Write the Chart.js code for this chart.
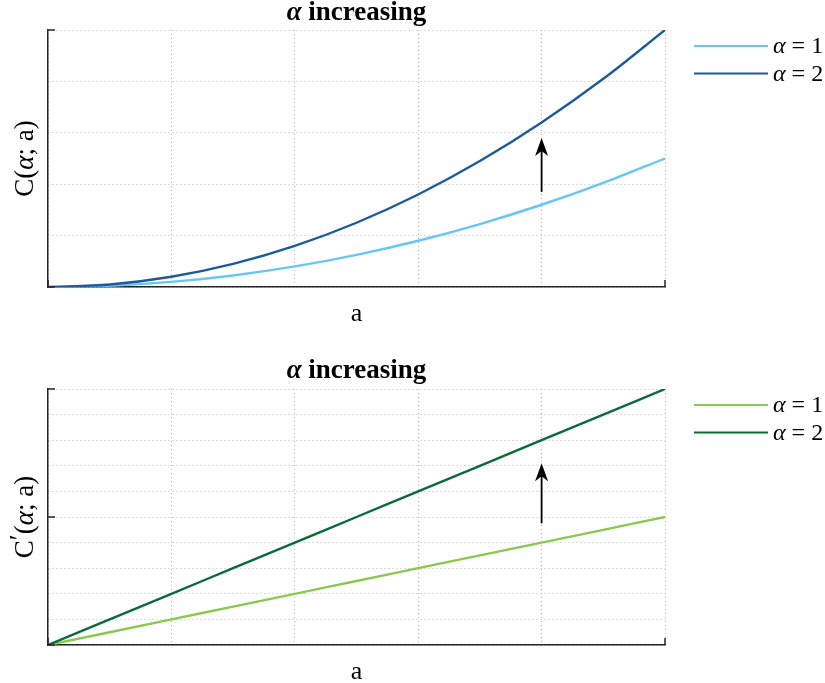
<!DOCTYPE html>
<html lang="en">
<head>
    <meta charset="UTF-8">
    <title>alpha increasing</title>
    <script src="https://cdn.jsdelivr.net/npm/chart.js"></script>
    <style>
        body { margin: 0; background: #fff; }
        #wrap { position: relative; width: 825px; height: 683px; }
        canvas { position: absolute; left: 0; }
        #costChart { top: 0; }
        #margChart { top: 342px; }
    </style>
</head>
<body>
<div id="wrap">
    <canvas id="costChart" width="825" height="342"></canvas>
    <canvas id="margChart" width="825" height="341"></canvas>
</div>
<script>
    // values
    const aGrid = [0, 0.1, 0.2, 0.3, 0.4, 0.5, 0.6, 0.7, 0.8, 0.9, 1];
    const costAlpha1 = [0, 0.005, 0.02, 0.045, 0.08, 0.125, 0.18, 0.245, 0.32, 0.405, 0.5];
    const costAlpha2 = [0, 0.01, 0.04, 0.09, 0.16, 0.25, 0.36, 0.49, 0.64, 0.81, 1];
    const margAlpha1 = [0, 0.1, 0.2, 0.3, 0.4, 0.5, 0.6, 0.7, 0.8, 0.9, 1];
    const margAlpha2 = [0, 0.2, 0.4, 0.6, 0.8, 1, 1.2, 1.4, 1.6, 1.8, 2];
    const seriesLabels = ["α = 1", "α = 2"];
    const costMajorY = [0, 1];
    const margMajorY = [0, 1, 2];
    const majorX = [0, 1];
    // arrow: [a, from, to]
    const costArrow = [0.8, 0.37, 0.58];
    const margArrow = [0.8, 0.95, 1.42];

    const serif = '"Liberation Serif", "Times New Roman", serif';
    const axisColor = "#262626";

    function runsWidth(ctx, runs) {
        let w = 0;
        for (const r of runs) { ctx.font = r.font; w += ctx.measureText(r.text).width; }
        return w;
    }
    function drawRuns(ctx, runs, x, y, centered) {
        let cx = centered ? x - runsWidth(ctx, runs) / 2 : x;
        for (const r of runs) {
            ctx.font = r.font;
            ctx.fillText(r.text, cx, y + (r.dy || 0));
            cx += ctx.measureText(r.text).width;
        }
    }
    function alphaRuns(label, size, bold) {
        const w = bold ? "bold " : "";
        return [
            { text: label[0], font: "italic " + w + size + "px " + serif },
            { text: label.slice(1), font: w + size + "px " + serif }
        ];
    }

    // titles, axis labels, legend, inward ticks and arrow
    const decorPlugin = {
        id: "decor",
        afterDraw(chart, args, opts) {
            const ctx = chart.ctx;
            const area = chart.chartArea;
            const xs = chart.scales.x, ys = chart.scales.y;
            const midX = (area.left + area.right) / 2;
            const midY = (area.top + area.bottom) / 2;
            ctx.save();
            ctx.fillStyle = "#000";
            ctx.textBaseline = "alphabetic";

            // title
            drawRuns(ctx, alphaRuns("α increasing", 27, true), midX, area.top - opts.titleGap, true);

            // x label
            ctx.textBaseline = "middle";
            drawRuns(ctx, [{ text: "a", font: "26px " + serif }], midX, area.bottom + 27, true);

            // y label
            ctx.save();
            ctx.translate(26, midY);
            ctx.rotate(-Math.PI / 2);
            drawRuns(ctx, opts.yRuns, 0, 0, true);
            ctx.restore();

            // inward major ticks
            ctx.strokeStyle = axisColor;
            ctx.lineWidth = 1.5;
            ctx.beginPath();
            for (const v of opts.majorY) {
                const py = ys.getPixelForValue(v);
                ctx.moveTo(area.left, py);
                ctx.lineTo(area.left + 7, py);
            }
            for (const v of majorX) {
                const px = xs.getPixelForValue(v);
                ctx.moveTo(px, area.bottom);
                ctx.lineTo(px, area.bottom - 7);
            }
            ctx.stroke();

            // arrow
            const ax = xs.getPixelForValue(opts.arrow[0]);
            const y0 = ys.getPixelForValue(opts.arrow[1]);
            const y1 = ys.getPixelForValue(opts.arrow[2]);
            ctx.strokeStyle = "#000";
            ctx.lineWidth = 1.8;
            ctx.beginPath();
            ctx.moveTo(ax, y0);
            ctx.lineTo(ax, y1 + 10);
            ctx.stroke();
            ctx.fillStyle = "#000";
            ctx.beginPath();
            ctx.moveTo(ax, y1);
            ctx.lineTo(ax + 6.5, y1 + 18);
            ctx.lineTo(ax, y1 + 13);
            ctx.lineTo(ax - 6.5, y1 + 18);
            ctx.closePath();
            ctx.fill();

            // legend
            chart.data.datasets.forEach((ds, i) => {
                const ly = area.top + 16 + i * 27.5;
                ctx.strokeStyle = ds.borderColor;
                ctx.lineWidth = 2.2;
                ctx.beginPath();
                ctx.moveTo(area.right + 29, ly);
                ctx.lineTo(area.right + 103, ly);
                ctx.stroke();
                ctx.fillStyle = "#000";
                ctx.textBaseline = "middle";
                drawRuns(ctx, alphaRuns(ds.label, 24, false), area.right + 108, ly + 1, false);
            });
            ctx.restore();
        }
    };

    function makeChart(id, series, colors, yMax, padding, decor) {
        new Chart(document.getElementById(id), {
            type: "line",
            data: {
                datasets: series.map((vals, i) => ({
                    label: seriesLabels[i],
                    data: aGrid.map((a, j) => ({ x: a, y: vals[j] })),
                    borderColor: colors[i],
                    backgroundColor: colors[i],
                    borderWidth: 2.4,
                    pointRadius: 0,
                    cubicInterpolationMode: "monotone",
                    order: i === 0 ? 2 : 1
                }))
            },
            options: {
                responsive: false,
                animation: false,
                devicePixelRatio: 1,
                layout: { padding: padding },
                plugins: {
                    legend: { display: false },
                    tooltip: { enabled: false },
                    decor: decor
                },
                scales: {
                    x: {
                        type: "linear", min: 0, max: 1,
                        ticks: { display: false, stepSize: 0.2 },
                        grid: { color: "#b8b8b8", lineWidth: 1, drawTicks: false },
                        border: { display: true, color: axisColor, width: 1.5, dash: [1, 3] }
                    },
                    y: {
                        min: 0, max: yMax,
                        ticks: { display: false, stepSize: 0.2 },
                        grid: { color: "#b8b8b8", lineWidth: 1, drawTicks: false },
                        border: { display: true, color: axisColor, width: 1.5, dash: [1, 3] }
                    }
                }
            },
            plugins: [decorPlugin]
        });
    }

    makeChart("costChart", [costAlpha1, costAlpha2], ["#66c7f4", "#1c5b9b"], 1,
        { left: 48, right: 160, top: 30, bottom: 55 },
        {
            titleGap: 10,
            yRuns: [
                { text: "C(", font: "27px " + serif },
                { text: "α", font: "italic 27px " + serif },
                { text: "; a)", font: "27px " + serif }
            ],
            majorY: costMajorY,
            arrow: costArrow
        });

    makeChart("margChart", [margAlpha1, margAlpha2], ["#8cc84e", "#0a6b38"], 2,
        { left: 48, right: 160, top: 47, bottom: 38 },
        {
            titleGap: 11,
            yRuns: [
                { text: "C", font: "27px " + serif },
                { text: "′", font: "27px " + serif, dy: -5 },
                { text: "(", font: "27px " + serif },
                { text: "α", font: "italic 27px " + serif },
                { text: "; a)", font: "27px " + serif }
            ],
            majorY: margMajorY,
            arrow: margArrow
        });
</script>
</body>
</html>
